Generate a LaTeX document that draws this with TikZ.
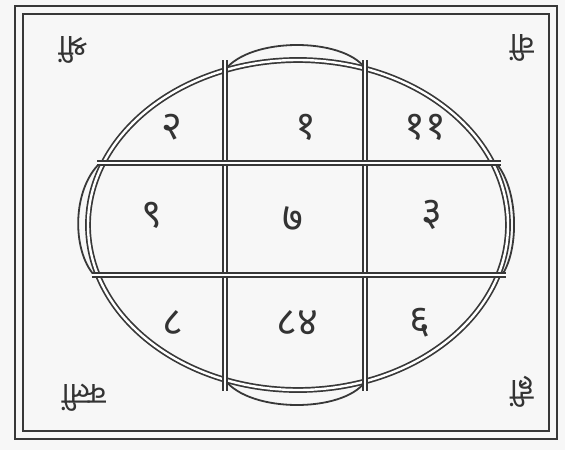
\documentclass[tikz,border=0pt]{standalone}
\usepackage{fontspec}
\newfontfamily\deva[Script=Devanagari]{Noto Sans}
\begin{document}
\begin{tikzpicture}[x=1pt,y=-1pt,
  ink/.style={draw=black!78},
  frame/.style={ink, line width=1.2pt},
  dline/.style={ink, line width=1.7pt, double=white, double distance=2.4pt},
  sline/.style={ink, line width=1.8pt},
  num/.style={text=black!80, font=\deva\fontsize{40}{42}\selectfont, inner sep=0pt},
  corner/.style={text=black!80, font=\deva\fontsize{30}{32}\selectfont, inner sep=0pt, rotate=180}]
\useasboundingbox (0,0) rectangle (565,450);
\fill[black!3] (0,0) rectangle (565,450);
% frame
\draw[frame] (15,6) rectangle (557,439);
\draw[frame] (23,14) rectangle (549,431);
% oval
\draw[dline] (298,225) ellipse [x radius=210pt, y radius=165pt];
% bulges
\draw[sline] (225,70) .. controls (250,37) and (342,37) .. (365,68);
\draw[sline] (225,380) .. controls (250,413) and (342,413) .. (365,382);
\draw[sline] (100,163) .. controls (72,190) and (72,250) .. (94,275);
\draw[sline] (496,163) .. controls (519,190) and (519,250) .. (502,275);
% grid
\draw[dline] (225,60) -- (225,391);
\draw[dline] (365,60) -- (365,391);
\draw[dline] (97,163) -- (501,163);
\draw[dline] (92,275) -- (506,275);
% numbers
\node[num] (n1) at (172,127) {२};
\node[num] (n2) at (306,127) {१};
\node[num] (n3) at (425,127) {११};
\node[num] (n4) at (152,215) {९};
\node[num] (n5) at (293,219) {७};
\node[num] (n6) at (432,215) {३};
\node[num] (n7) at (173,323) {८};
\node[num] (n8) at (297,323) {८४};
\node[num] (n9) at (420,323) {६};
% corner letters
\node[corner] (c1) at (73,50) {श्रीं};
\node[corner] (c2) at (522,48) {वीं};
\node[corner] (c3) at (84,398) {क्लीं};
\node[corner] (c4) at (522,392) {ह्रीं};
\end{tikzpicture}
\end{document}
